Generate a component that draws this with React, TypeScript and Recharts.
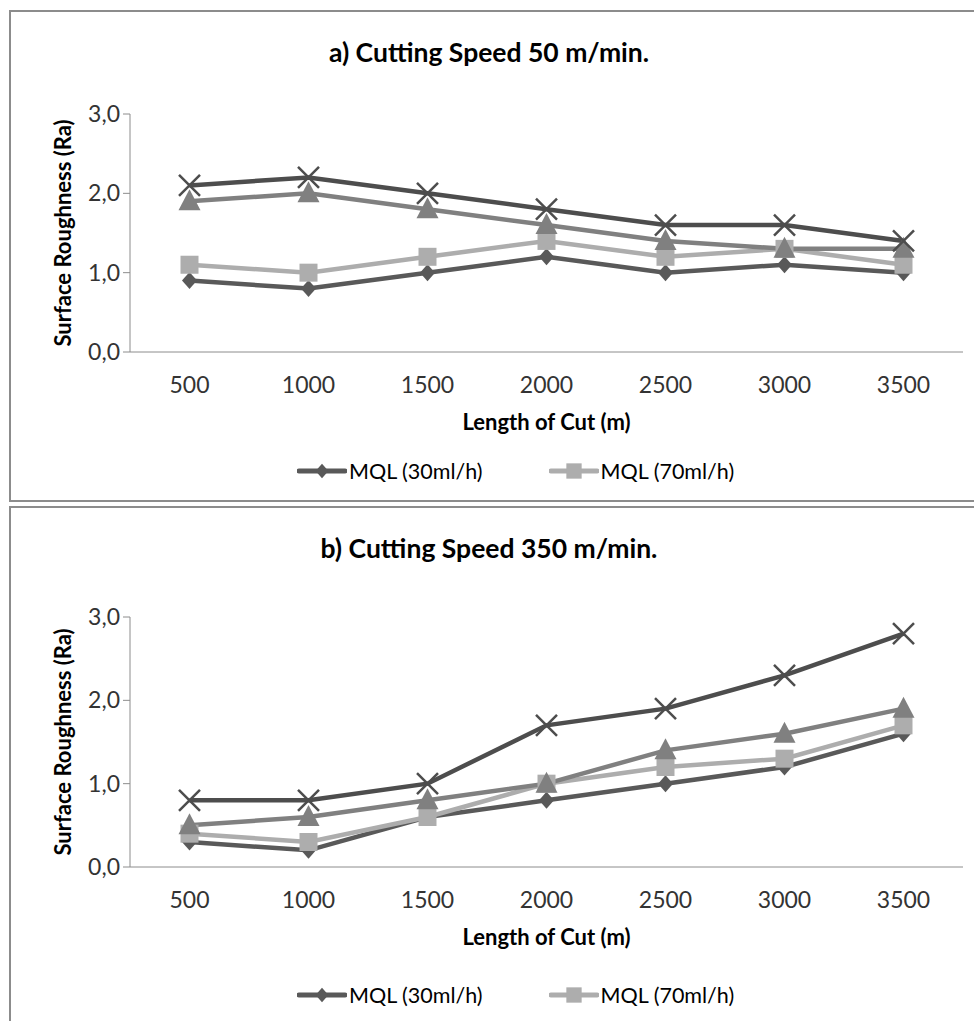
import React from 'react';
import { LineChart, Line, XAxis, YAxis, Legend } from 'recharts';

const lengths = ['500', '1000', '1500', '2000', '2500', '3000', '3500'];

// a) 50 m/min
const a30 = [0.9, 0.8, 1.0, 1.2, 1.0, 1.1, 1.0];
const a70 = [1.1, 1.0, 1.2, 1.4, 1.2, 1.3, 1.1];
const aTri = [1.9, 2.0, 1.8, 1.6, 1.4, 1.3, 1.3];
const aX = [2.1, 2.2, 2.0, 1.8, 1.6, 1.6, 1.4];

// b) 350 m/min
const b30 = [0.3, 0.2, 0.6, 0.8, 1.0, 1.2, 1.6];
const b70 = [0.4, 0.3, 0.6, 1.0, 1.2, 1.3, 1.7];
const bTri = [0.5, 0.6, 0.8, 1.0, 1.4, 1.6, 1.9];
const bX = [0.8, 0.8, 1.0, 1.7, 1.9, 2.3, 2.8];

const yTicks = [0, 1, 2, 3];

const FONT = "Lato, 'Open Sans', sans-serif";
const C30 = '#595959';
const C70 = '#adadad';
const CTRI = '#808080';
const CX = '#4d4d4d';

const shapeOf: Record<string, string> = { s30: 'diamond', s70: 'square', tri: 'triangle', x: 'x' };

const marker = (shape: string, cx: number, cy: number, color: string, k = 1, key?: string) => {
  if (shape === 'diamond') {
    const rx = 7.5 * k;
    const ry = 8.5 * k;
    return <path key={key} d={`M${cx},${cy - ry}L${cx + rx},${cy}L${cx},${cy + ry}L${cx - rx},${cy}Z`} fill={color} />;
  }
  if (shape === 'square') {
    const r = 9 * k;
    return <rect key={key} x={cx - r} y={cy - r} width={r * 2} height={r * 2} fill={color} />;
  }
  if (shape === 'triangle') {
    return <path key={key} d={`M${cx},${cy - 12 * k}L${cx + 11 * k},${cy + 9 * k}L${cx - 11 * k},${cy + 9 * k}Z`} fill={color} />;
  }
  const r = 10.5 * k;
  return (
    <path
      key={key}
      d={`M${cx - r},${cy - r}L${cx + r},${cy + r}M${cx - r},${cy + r}L${cx + r},${cy - r}`}
      stroke={color}
      strokeWidth={2.5}
      fill="none"
    />
  );
};

const dotFor = (shape: string, color: string) => (props: any) => {
  const { cx, cy, index } = props;
  if (cx == null || cy == null) return <g key={`e-${index}`} />;
  return marker(shape, cx, cy, color, 1, `${shape}-${index}`);
};

const LegendContent = (props: any) => {
  const items = (props.payload || []).filter((p: any) => p.type !== 'none');
  return (
    <div style={{ display: 'flex', fontFamily: FONT, fontSize: 21.5, color: '#000' }}>
      {items.map((p: any, i: number) => (
        <div key={i} style={{ display: 'flex', alignItems: 'center', marginRight: 66 }}>
          <svg width={50} height={18} style={{ marginRight: 2 }}>
            <line x1={2} y1={9} x2={48} y2={9} stroke={p.color} strokeWidth={5} strokeLinecap="round" />
            {marker(shapeOf[p.dataKey], 25, 9, p.color, 0.85)}
          </svg>
          <span>{p.value}</span>
        </div>
      ))}
    </div>
  );
};

const YTitle = (props: any) => {
  const vb = props.viewBox || { x: 70, y: 0, height: 0 };
  const x = vb.x - 8;
  const y = vb.y + vb.height / 2;
  return (
    <text x={x} y={y} transform={`rotate(-90 ${x} ${y})`} textAnchor="middle" dominantBaseline="central"
      fontFamily={FONT} fontWeight={700} fontSize={22} fill="#000">
      Surface Roughness (Ra)
    </text>
  );
};

const fmt = (v: number) => v.toFixed(1).replace('.', ',');

type PanelProps = {
  top: number;
  height: number;
  plotTop: number;
  plotBottom: number;
  title: string;
  titleY: number;
  legendTop: number;
  s30: number[];
  s70: number[];
  tri: number[];
  x: number[];
};

const Panel = ({ top, height, plotTop, plotBottom, title, titleY, legendTop, s30, s70, tri, x }: PanelProps) => {
  const data = lengths.map((l, i) => ({ length: l, s30: s30[i], s70: s70[i], tri: tri[i], x: x[i] }));
  return (
    <div style={{ position: 'absolute', left: 0, top, width: 974, height }}>
      <div style={{ position: 'absolute', left: 0, width: 974, top: titleY - 17, textAlign: 'center', fontFamily: FONT, fontWeight: 700, fontSize: 26.5, color: '#000', lineHeight: '34px' }}>
        <span style={{ position: 'relative', left: 2 }}>{title}</span>
      </div>
      <LineChart
        width={974}
        height={height}
        data={data}
        margin={{ top: plotTop, right: 11, bottom: height - plotBottom - 30, left: 70 }}
        style={{ position: 'absolute', left: 0, top: 0 }}
      >
        <XAxis
          dataKey="length"
          stroke="#8c8c8c"
          tickLine={false}
          padding={{ left: 59.5, right: 59.5 }}
          tick={{ fill: '#333', fontSize: 23, fontFamily: FONT }}
          tickMargin={19}
          label={{ value: 'Length of Cut (m)', position: 'bottom', offset: 32, fill: '#000', fontSize: 22, fontWeight: 700, fontFamily: FONT }}
        />
        <YAxis
          width={60}
          domain={[0, 3]}
          ticks={yTicks}
          tickFormatter={fmt}
          stroke="#8c8c8c"
          tickSize={7}
          tickMargin={3}
          tick={{ fill: '#333', fontSize: 23, fontFamily: FONT }}
          label={<YTitle />}
        />
        <Legend
          verticalAlign="middle"
          align="center"
          content={<LegendContent />}
          wrapperStyle={{ position: 'absolute', left: 297, top: legendTop, width: 'auto', height: 'auto' }}
        />
        <Line dataKey="s30" name="MQL (30ml/h)" stroke={C30} strokeWidth={4.5} dot={dotFor('diamond', C30)} isAnimationActive={false} />
        <Line dataKey="s70" name="MQL (70ml/h)" stroke={C70} strokeWidth={4.5} dot={dotFor('square', C70)} isAnimationActive={false} />
        <Line dataKey="tri" name="tri" legendType="none" stroke={CTRI} strokeWidth={4.5} dot={dotFor('triangle', CTRI)} isAnimationActive={false} />
        <Line dataKey="x" name="x" legendType="none" stroke={CX} strokeWidth={4.5} dot={dotFor('x', CX)} isAnimationActive={false} />
      </LineChart>
    </div>
  );
};

export default function App() {
  return (
    <div style={{ position: 'absolute', left: 0, top: 0, width: 974, height: 1021, overflow: 'hidden', background: '#fff' }}>
      <div style={{ position: 'absolute', left: 9, top: 10, width: 965, height: 492, boxSizing: 'border-box', border: '2px solid #8c8c8c', borderRight: 'none' }} />
      <div style={{ position: 'absolute', left: 9, top: 506, width: 965, height: 515, boxSizing: 'border-box', border: '2px solid #8c8c8c', borderRight: 'none', borderBottom: 'none' }} />
      <Panel top={0} height={503} plotTop={114} plotBottom={352} title="a) Cutting Speed 50 m/min." titleY={52}
        legendTop={458} s30={a30} s70={a70} tri={aTri} x={aX} />
      <Panel top={503} height={518} plotTop={114} plotBottom={364} title="b) Cutting Speed 350 m/min." titleY={45}
        legendTop={479} s30={b30} s70={b70} tri={bTri} x={bX} />
    </div>
  );
}
